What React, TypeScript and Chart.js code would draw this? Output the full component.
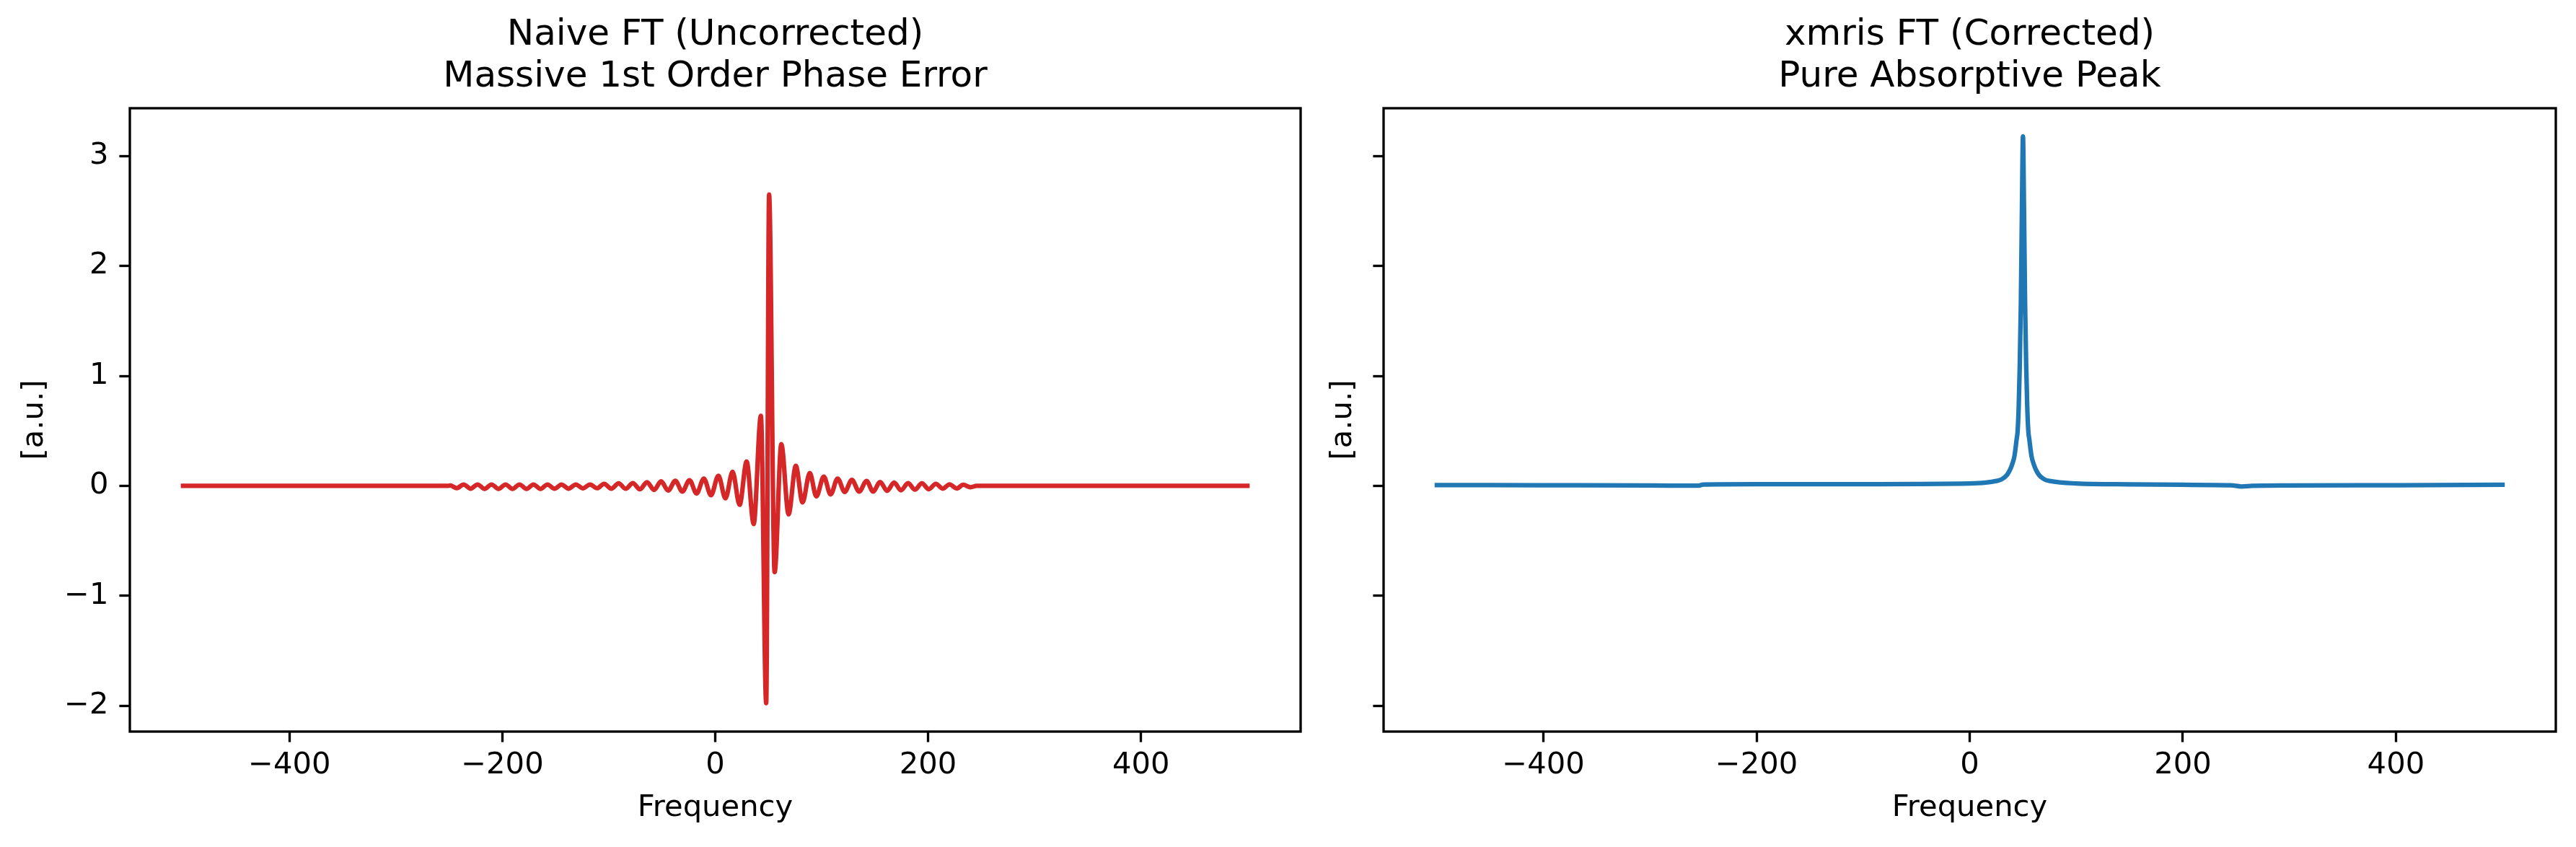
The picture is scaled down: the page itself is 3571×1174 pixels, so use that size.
import React, { useEffect, useRef } from "react";
import { Chart, registerables } from "chart.js";

Chart.register(...registerables);

// ---------- data ----------
const redFreq = [
  -500, -252, -249, -242.8, -236.4, -229.8, -223.3, -216.7, -210.2, -203.6, -197.0, -190.5,
  -183.9, -177.3, -170.8, -164.2, -157.6, -151.0, -144.5, -137.8, -131.0, -124.3, -117.6,
  -111.0, -104.4, -97.6, -90.8, -84.1, -77.4, -70.8, -64.1, -57.5, -50.9, -44.2, -37.5,
  -30.9, -24.2, -17.5, -10.7, -4.0, 3.0, 9.6, 16.3, 22.9, 29.5, 36.1, 42.9, 47.9, 50.6,
  55.8, 62.1, 68.9, 75.7, 82.0, 88.8, 95.0, 102.0, 108.4, 115.0, 121.6, 128.4, 135.2,
  142.2, 148.3, 155.0, 161.4, 168.1, 174.5, 181.2, 187.6, 194.1, 200.7, 207.2, 213.8,
  220.1, 226.9, 233.0, 239.8, 245.6, 251.5, 500,
];
const redAmp = [
  0, 0, 0.004, -0.02, 0.013, -0.025, 0.013, -0.027, 0.013, -0.027, 0.013, -0.027,
  0.013, -0.027, 0.013, -0.027, 0.013, -0.026, 0.013, -0.025, 0.013, -0.022, 0.013,
  -0.021, 0.019, -0.025, 0.023, -0.026, 0.026, -0.031, 0.034, -0.037, 0.041, -0.042, 0.047,
  -0.052, 0.052, -0.069, 0.067, -0.085, 0.093, -0.113, 0.128, -0.172, 0.222, -0.346, 0.637, -1.975, 2.648,
  -0.784, 0.379, -0.259, 0.183, -0.15, 0.117, -0.095, 0.084, -0.078, 0.067, -0.055, 0.055, -0.052,
  0.045, -0.051, 0.036, -0.045, 0.03, -0.04, 0.025, -0.034, 0.023, -0.03, 0.019, -0.025,
  0.014, -0.023, 0.01, -0.012, 0.001, 0, 0,
];

const blueFreq = [
  -500, -400, -300, -255, -250, -200, -100, 0, 15, 25, 30, 35, 38, 40, 42, 44, 45, 46, 47, 48, 49,
  50, 51, 52, 53, 54, 55, 56, 58, 60, 62, 65, 70, 75, 100, 150, 200, 245, 255, 265, 300, 400, 500,
];
const blueAmp = [
  0.008, 0.006, 0.004, 0.002, 0.012, 0.015, 0.016, 0.022, 0.03, 0.045, 0.06, 0.1, 0.15, 0.2, 0.27,
  0.42, 0.5, 0.72, 1.1, 1.65, 2.5, 3.177, 2.5, 1.65, 1.1, 0.72, 0.5, 0.42, 0.27, 0.2, 0.15, 0.1, 0.06,
  0.045, 0.022, 0.014, 0.01, 0.006, -0.005, 0.0, 0.004, 0.006, 0.01,
];

const xTickValues = [-400, -200, 0, 200, 400];
const yTickValues = [-2, -1, 0, 1, 2, 3];
const leftTitle = ["Naive FT (Uncorrected)", "Massive 1st Order Phase Error"];
const rightTitle = ["xmris FT (Corrected)", "Pure Absorptive Peak"];
const xLabel = "Frequency";
const yLabel = "[a.u.]";

const X_MIN = -550;
const X_MAX = 550;
const Y_MIN = -2.233;
const Y_MAX = 3.433;

const FONT = "DejaVu Sans";
const H = 1174;

const fmt = (v: number) => (v < 0 ? "\u2212" + Math.abs(v) : String(v));

const framePlugin = {
  id: "frame",
  afterDraw(chart: any) {
    const { ctx, chartArea: a } = chart;
    ctx.save();
    ctx.strokeStyle = "#000";
    ctx.lineWidth = 3.33;
    ctx.lineJoin = "miter";
    ctx.strokeRect(a.left, a.top, a.right - a.left, a.bottom - a.top);
    ctx.restore();
  },
};

type PanelProps = {
  left: number;
  width: number;
  xs: number[];
  ys: number[];
  color: string;
  title: string[];
  showYTickLabels: boolean;
  yAxisWidth: number;
  yTitlePad: number;
  padRight: number;
};

function Panel(p: PanelProps) {
  const ref = useRef<HTMLCanvasElement | null>(null);
  useEffect(() => {
    if (!ref.current) return;
    Chart.defaults.font.family = FONT;
    const chart = new Chart(ref.current, {
      type: "line",
      data: {
        datasets: [
          {
            data: p.xs.map((x, i) => ({ x, y: p.ys[i] })),
            borderColor: p.color,
            backgroundColor: p.color,
            borderWidth: 6.25,
            pointRadius: 0,
            fill: false,
            cubicInterpolationMode: "monotone",
            borderJoinStyle: "round",
            borderCapStyle: "square",
          } as any,
        ],
      },
      options: {
        responsive: false,
        animation: false,
        layout: { padding: { left: 0, right: p.padRight, top: 0, bottom: 0 } },
        plugins: {
          legend: { display: false },
          tooltip: { enabled: false },
          title: {
            display: true,
            text: p.title,
            fullSize: false,
            color: "#000",
            font: { family: FONT, size: 50, weight: "normal", lineHeight: 1.16 },
            padding: { top: 20, bottom: 14 },
          },
        },
        scales: {
          x: {
            type: "linear",
            min: X_MIN,
            max: X_MAX,
            afterBuildTicks: (ax: any) => {
              ax.ticks = xTickValues.map((v) => ({ value: v }));
            },
            afterFit: (s: any) => {
              s.height = 160;
            },
            grid: {
              display: true,
              drawOnChartArea: false,
              drawTicks: true,
              tickLength: 14.6,
              tickWidth: 3.33,
              tickColor: "#000",
            },
            border: { display: false },
            ticks: {
              color: "#000",
              font: { family: FONT, size: 41.7 },
              padding: 8,
              maxRotation: 0,
              autoSkip: false,
              callback: (v: any) => fmt(Number(v)),
            },
            title: {
              display: true,
              text: xLabel,
              color: "#000",
              font: { family: FONT, size: 41.7, lineHeight: 1.2 },
              padding: { top: 0, bottom: 28.4 },
            },
          },
          y: {
            type: "linear",
            min: Y_MIN,
            max: Y_MAX,
            afterBuildTicks: (ax: any) => {
              ax.ticks = yTickValues.map((v) => ({ value: v }));
            },
            afterFit: (s: any) => {
              s.width = p.yAxisWidth;
            },
            grid: {
              display: true,
              drawOnChartArea: false,
              drawTicks: true,
              tickLength: 14.6,
              tickWidth: 3.33,
              tickColor: "#000",
            },
            border: { display: false },
            ticks: {
              display: p.showYTickLabels,
              color: "#000",
              font: { family: FONT, size: 41.7 },
              padding: 15,
              callback: (v: any) => fmt(Number(v)),
            },
            title: {
              display: true,
              text: yLabel,
              color: "#000",
              font: { family: FONT, size: 41.7, lineHeight: 1.2 },
              padding: { top: p.yTitlePad, bottom: 0 },
            },
          },
        },
      } as any,
      plugins: [framePlugin],
    });
    return () => chart.destroy();
  }, []);
  return (
    <canvas
      ref={ref}
      width={p.width}
      height={H}
      style={{ position: "absolute", left: p.left, top: 0, width: p.width, height: H }}
    />
  );
}

export default function App() {
  return (
    <div
      style={{
        position: "absolute",
        left: 0,
        top: 0,
        width: 3571,
        height: H,
        background: "#fff",
        overflow: "hidden",
      }}
    >
      <Panel
        left={0}
        width={1810}
        xs={redFreq}
        ys={redAmp}
        color="#d62728"
        title={leftTitle}
        showYTickLabels={true}
        yAxisWidth={180}
        yTitlePad={23.6}
        padRight={7}
      />
      <Panel
        left={1810}
        width={1761}
        xs={blueFreq}
        ys={blueAmp}
        color="#1f77b4"
        title={rightTitle}
        showYTickLabels={false}
        yAxisWidth={108}
        yTitlePad={27.6}
        padRight={28}
      />
    </div>
  );
}
